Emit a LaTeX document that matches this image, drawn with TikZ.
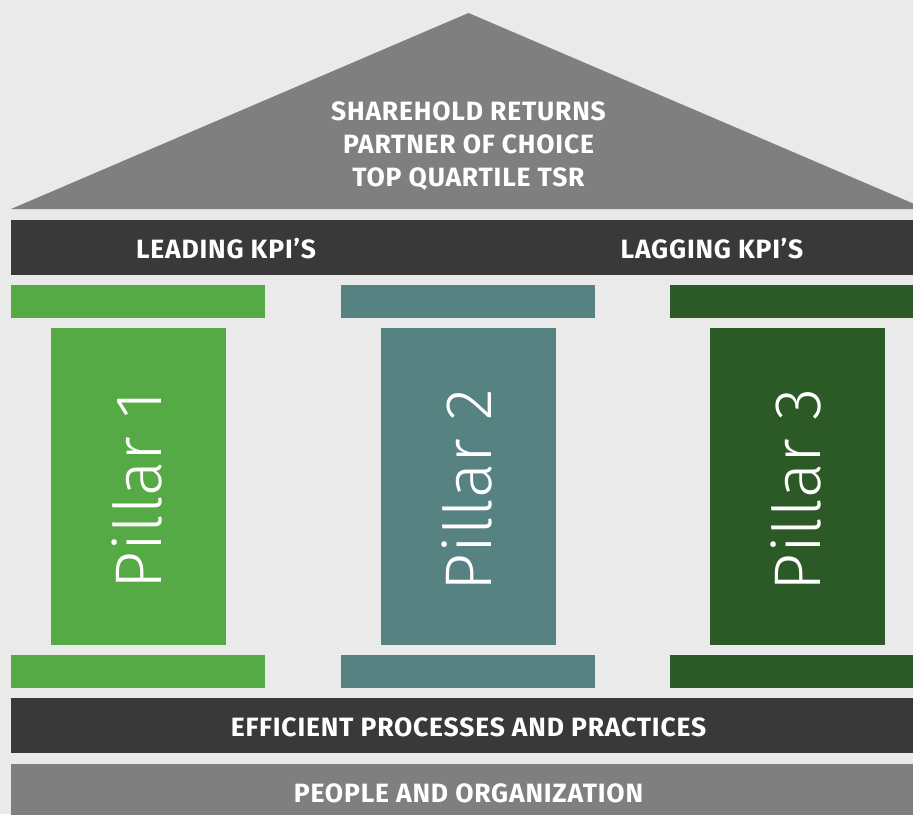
\documentclass[tikz,border=0pt]{standalone}
\usepackage{fontspec}
\setmainfont{Fira Sans}[LetterSpace=3, UprightFont=* Bold]
\newfontfamily\pillarfont{Fira Sans}[UprightFont=* Light]
\definecolor{bg}{HTML}{EAEAEA}
\definecolor{roofgray}{HTML}{7F7F7F}
\definecolor{darkbar}{HTML}{393939}
\definecolor{pgreen}{HTML}{55AA45}
\definecolor{pteal}{HTML}{568282}
\definecolor{pdark}{HTML}{2C5A27}
\tikzset{
  lbl/.style={text=white, font=\fontsize{26.5}{33}\selectfont, align=center, inner sep=0pt},
  plbl/.style={text=white, font=\pillarfont\fontsize{66}{66}\selectfont, rotate=90, inner sep=0pt}
}
\begin{document}
\begin{tikzpicture}[x=1pt,y=-1pt]
\useasboundingbox (0,0) rectangle (913,814);
\fill[bg] (0,0) rectangle (913,814);
\begin{scope}
\clip (0,0) rectangle (913,814);
% roof
\fill[roofgray] (11,209) -- (468.5,13) -- (926,209) -- cycle;
\node[lbl] (roof) at (468.5,146) {SHAREHOLD RETURNS\\PARTNER OF CHOICE\\TOP QUARTILE TSR};
% KPI bar
\fill[darkbar] (11,220) rectangle (925,275);
\node[lbl] (lead) at (226,248.5) {LEADING KPI’S};
\node[lbl] (lag) at (712,248.5) {LAGGING KPI’S};
% pillars
\foreach \c/\x/\n in {pgreen/11/1, pteal/341/2, pdark/670/3}{
  \fill[\c] (\x,285) rectangle ++(254,33);
  \fill[\c] (\x+40,328) rectangle ++(175,317);
  \fill[\c] (\x,655) rectangle ++(254,33);
  \node[plbl] (p\n) at (\x+126.5,490) {Pillar \n};
}
% base
\fill[darkbar] (11,698) rectangle (925,753);
\node[lbl] (eff) at (468.5,727.5) {EFFICIENT PROCESSES AND PRACTICES};
\fill[roofgray] (11,764) rectangle (925,830);
\node[lbl] (ppl) at (468.5,793.5) {PEOPLE AND ORGANIZATION};
\end{scope}
\end{tikzpicture}
\end{document}
